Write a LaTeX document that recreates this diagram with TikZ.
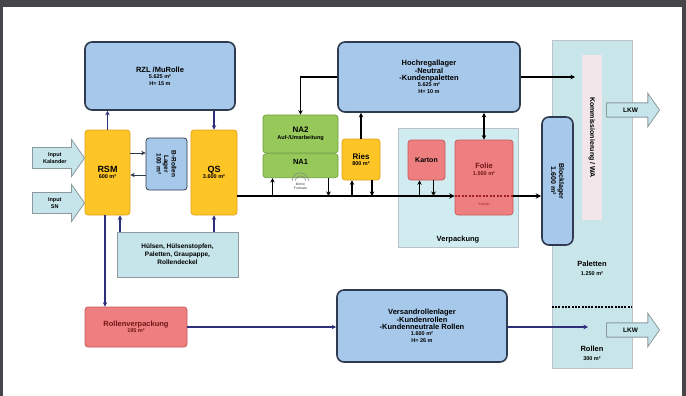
\documentclass[tikz,border=0pt]{standalone}
\usepackage{fontspec}
\setmainfont{Liberation Sans}
\usepackage{tikz}
\usetikzlibrary{shapes.arrows,arrows.meta,calc}
\definecolor{rahmen}{HTML}{46454A}
\definecolor{hellblau}{HTML}{A6C8EA}
\definecolor{blaurand}{HTML}{2F3A4E}
\definecolor{gelb}{HTML}{FDC526}
\definecolor{gelbrand}{HTML}{E3A21A}
\definecolor{rosa}{HTML}{EE7F80}
\definecolor{rotrand}{HTML}{C65A5C}
\definecolor{gruen}{HTML}{96C85A}
\definecolor{gruenrand}{HTML}{6E9E3E}
\definecolor{hellcyan}{HTML}{C5E5EA}
\definecolor{grau}{HTML}{8C9A9E}
\definecolor{navy}{HTML}{2E2F7A}
\definecolor{kommcyan}{HTML}{C8E6EA}
\definecolor{verpcyan}{HTML}{D0ECF0}
\definecolor{streifen}{HTML}{F2E6EA}
\definecolor{dunkelrot}{HTML}{A02020}
\newcommand\klein{\fontsize{5.5}{6.5}\selectfont}
\newcommand\gross{\fontsize{7.5}{9}\selectfont}

\begin{document}
\begin{tikzpicture}[x=1pt,y=-1pt,
  blaubox/.style={draw=blaurand,fill=hellblau,line width=1.6pt,rounded corners=7pt,align=center,font=\bfseries\klein},
  gelbbox/.style={draw=gelbrand,fill=gelb,line width=.7pt,rounded corners=3pt,align=center,font=\bfseries\klein},
  rotbox/.style={draw=rotrand,fill=rosa,line width=.7pt,rounded corners=3pt,align=center,font=\bfseries\klein},
  gruenbox/.style={draw=gruenrand,fill=gruen,line width=.7pt,rounded corners=3pt,align=center,font=\bfseries\klein},
  cyanbox/.style={draw=grau,fill=hellcyan,line width=.8pt,align=center,font=\bfseries\klein},
  eingang/.style={single arrow,draw=grau,fill=hellcyan,line width=.8pt,single arrow head extend=8pt,single arrow tip angle=110,minimum height=52pt,inner ysep=5pt,inner xsep=2pt,align=center,font=\bfseries\klein,anchor=tip},
  lkw/.style={eingang,minimum height=53pt,inner ysep=4.5pt,single arrow head extend=9.5pt,font=\bfseries\fontsize{6.5}{7}\selectfont},
  pfeil/.style={-{Stealth[length=4.5pt,width=4.5pt]},line width=1.2pt},
  rolle/.style={pfeil,draw=navy},
  doppel/.style={{Stealth[length=4.5pt,width=4.5pt]}-{Stealth[length=4.5pt,width=4.5pt]},line width=1.2pt},
  haupt/.style={-{Stealth[length=5.5pt,width=5.5pt]},line width=2.2pt}]
\useasboundingbox (0,0) rectangle (686,396);
\fill[rahmen] (0,0) rectangle (686,396);
\fill[white] (3,7) rectangle (682,396);

% Kommissionierung / WA
\node[draw=grau!60,fill=kommcyan,minimum width=80,minimum height=328] (Komm) at (592,204) {};
\node[fill=streifen,rotate=-90,minimum width=165,minimum height=20,font=\bfseries\fontsize{7}{8}\selectfont] (kommtext) at (592,137.5) {Kommissionierung / WA};
\node[align=center,font=\bfseries\gross] (pal) at (592,268) {Paletten\\{\klein 1.250 m²}};
\node[align=center,font=\bfseries\gross] (rol) at (592,353) {Rollen\\{\klein 300 m²}};
\coordinate (trenn) at (0,307);
\draw[line width=1.6pt,dash pattern=on 2pt off 1.3pt] (Komm.west |- trenn) -- (Komm.east |- trenn);
\node[lkw] (lkw1) at (660,110) {LKW};
\node[lkw] (lkw2) at (660,330) {LKW};

% Verpackung
\node[draw=grau!60,fill=verpcyan,minimum width=120,minimum height=119] (Verp) at (458,187.5) {};
\node[font=\bfseries\fontsize{7.5}{8}\selectfont] (verplabel) at (458,240) {Verpackung};
\node[rotbox,minimum width=37,minimum height=40,font=\bfseries\fontsize{7}{8}\selectfont] (Karton) at (426.5,160) {Karton};
\node[rotbox,minimum width=58,minimum height=75,text=dunkelrot!70!black] (Folie) at (484,177.5) {{\gross Folie}\\1.500 m²\\[10pt]~};
\node[font=\fontsize{3.5}{4}\selectfont,text=dunkelrot] (folieklein) at (484,204) {Stretch};

% Lager
\node[blaubox,minimum width=150,minimum height=68] (RZL) at (160,76) {{\gross RZL /MuRolle}\\5.625 m²\\H= 15 m};
\node[blaubox,minimum width=182,minimum height=70] (Hoch) at (429,77) {{\gross Hochregallager}\\{\gross -Neutral}\\{\gross -Kundenpaletten}\\5.625 m²\\H= 10 m};
\node[blaubox,minimum width=170,minimum height=72] (Versand) at (422,326) {{\gross Versandrollenlager}\\{\gross -Kundenrollen}\\{\gross -Kundenneutrale Rollen}\\1.600 m²\\H= 26 m};
\node[blaubox,rotate=-90,minimum width=128,minimum height=31,font=\bfseries\fontsize{7}{8}\selectfont] (Block) at (557.5,181) {Blocklager\\1.600 m²};
\node[blaubox,line width=.7pt,rounded corners=3pt,rotate=-90,minimum width=52,minimum height=41,font=\bfseries\fontsize{6.5}{7.5}\selectfont] (Blager) at (166.5,164) {B-Rollen\\Lager\\100 m²};

% Produktion
\node[gelbbox,minimum width=45,minimum height=85] (RSM) at (107.5,172.5) {{\fontsize{9}{10}\selectfont RSM}\\600 m²};
\node[gelbbox,minimum width=46,minimum height=85] (QS) at (214,172.5) {{\fontsize{9}{10}\selectfont QS}\\3.600 m²};
\node[gelbbox,minimum width=38,minimum height=41] (Ries) at (361,159.5) {{\fontsize{8}{9}\selectfont Ries}\\800 m²};
\node[gruenbox,minimum width=75,minimum height=38] (NA2) at (300.5,134) {{\fontsize{8}{9}\selectfont NA2}\\Auf-/Umarbeitung};
\node[gruenbox,minimum width=75,minimum height=24,anchor=north,text depth=8pt] (NA1) at (NA2.south) {\gross NA1};
\draw[gray,line width=.5pt] (292,181) .. controls (294,170) and (306,170) .. (309,181);
\draw[gray,line width=.5pt] (295,181) .. controls (297,174) and (304,174) .. (306,181);
\node[font=\fontsize{3.5}{4}\selectfont,align=center,text=gray!50!black] (na1klein) at (300.5,186.5) {kleine\\Formate};
\node[rotbox,minimum width=102,minimum height=40,text=dunkelrot!70!black] (Rollv) at (136,327) {{\gross Rollenverpackung}\\195 m²};
\node[cyanbox,minimum width=121,minimum height=45,font=\bfseries\fontsize{6.5}{8}\selectfont] (Huelsen) at (177.5,254.5) {Hülsen, Hülsenstopfen,\\Paletten, Graupappe,\\Rollendeckel};
\node[eingang] (inkal) at (85,158) {Input\\Kalander};
\node[eingang] (insn) at (85,203) {Input\\SN};

% Verbindungen
\draw[rolle] (RSM.north) -- (RSM.north |- RZL.south);
\draw[rolle] (RZL.south -| QS.north) -- (QS.north);
\coordinate (bl1) at (0,153);
\coordinate (bl2) at (0,175);
\draw[pfeil,line width=.8pt,draw=blaurand] (RSM.east |- bl1) -- (Blager.south |- bl1);
\draw[pfeil,line width=.8pt,draw=blaurand] (Blager.south |- bl2) -- (RSM.east |- bl2);
\coordinate (hr) at ($(RSM.south)+(12.5,0)$);
\draw[rolle] (hr |- Huelsen.north) -- (hr);
\draw[rolle] (QS.south |- Huelsen.north) -- (QS.south);
\coordinate (rl) at ($(RSM.south)+(-2.5,0)$);
\draw[rolle] (rl) -- (rl |- Rollv.north);
\draw[rolle] (Rollv.east) -- (Rollv.east -| Versand.west);
\coordinate (rollziel) at (588,327);
\draw[rolle] (Versand.east |- rollziel) -- (rollziel);

\coordinate (hl) at (0,196);
\draw[haupt] (QS.east |- hl) -- (Folie.west |- hl);
\draw[dunkelrot,line width=2pt,dash pattern=on 2pt off 1.5pt] (Folie.west |- hl) -- (Folie.east |- hl);
\draw[haupt] (Folie.east |- hl) -- (Block.south |- hl);

\coordinate (n1a) at ($(NA1.south)+(-28,0)$);
\coordinate (n1b) at ($(NA1.south)+(28,0)$);
\coordinate (ra) at ($(Ries.south)+(-9,0)$);
\coordinate (rb) at ($(Ries.south)+(11,0)$);
\coordinate (ka) at ($(Karton.south)+(-7,0)$);
\coordinate (kb) at ($(Karton.south)+(7,0)$);
\draw[pfeil] (n1a |- hl) -- (n1a);
\draw[pfeil] (n1b) -- (n1b |- hl);
\draw[pfeil] (ra |- hl) -- (ra);
\draw[pfeil] (rb) -- (rb |- hl);
\draw[pfeil] (ka |- hl) -- (ka);
\draw[pfeil] (kb) -- (kb |- hl);

\draw[pfeil] (Ries.north) -- (Ries.north |- Hoch.south);
\draw[pfeil] (Hoch.west) -| (NA2.north);
\draw[doppel] (Folie.north |- Hoch.south) -- (Folie.north);
\coordinate (kziel) at (575,78);
\draw[pfeil] (Hoch.east) -- (Hoch.east -| kziel);
\end{tikzpicture}
\end{document}
